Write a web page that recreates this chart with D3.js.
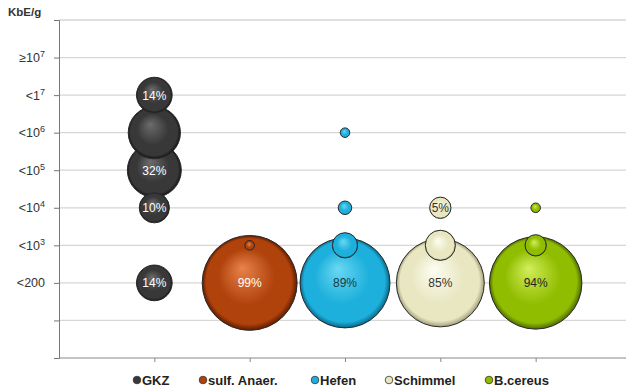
<!DOCTYPE html>
<html><head><meta charset="utf-8">
<script src="https://cdn.jsdelivr.net/npm/d3@7"></script>
<style>body{margin:0;background:#fff;font-family:Arial,"Liberation Sans",sans-serif;}</style>
</head><body><svg id="c" width="626" height="388"></svg>
<script>
const seriesNames = ["GKZ","sulf. Anaer.","Hefen","Schimmel","B.cereus"];
const seriesX = [1,2,3,4,5];
// each point: [level, percent]
const gkz = [[7,14],[6,30],[5,32],[4,10],[2,14]];
const sulf = [[3,1],[2,99]];
const hefen = [[6,1],[4,2],[3,7],[2,89]];
const schimmel = [[4,5],[3,10],[2,85]];
const bcereus = [[4,1],[3,5],[2,94]];
const seriesData = [gkz,sulf,hefen,schimmel,bcereus];
const labelShown = [[true,false,true,true,true],[false,true],[false,false,false,true],[true,false,true],[false,false,true]];
const yTickValues = [0,1,2,3,4,5,6,7,8,9];
const yTickLabels = {2:["<200",""],3:["<10","3"],4:["<10","4"],5:["<10","5"],6:["<10","6"],7:["<1","7"],8:["≥10","7"]};
const colors = [
  {base:"#383838",light:"#6c6c6c",edge:"#141414",text:"#ffffff"},
  {base:"#b0420c",light:"#e8834a",edge:"#5e1c00",text:"#ffffff"},
  {base:"#1eb0dc",light:"#6ad8f2",edge:"#086a8a",text:"#1a3a48"},
  {base:"#e8e7c2",light:"#fdfdf2",edge:"#a09e78",text:"#333333"},
  {base:"#90bd00",light:"#d2ee5a",edge:"#4e6a00",text:"#222222"}
];

const svg = d3.select("#c");
const x = d3.scaleLinear().domain([0,6]).range([59,631]);
const y = d3.scaleLinear().domain([0,9]).range([358,20]);
const r = d3.scaleSqrt().domain([0,100]).range([0,47.7]);

const defs = svg.append("defs");
colors.forEach((c,i)=>{
  const g = defs.append("radialGradient").attr("id","g"+i)
    .attr("cx","50%").attr("cy","50%").attr("r","50%").attr("fx","42%").attr("fy","34%");
  g.append("stop").attr("offset","0%").attr("stop-color",c.light);
  g.append("stop").attr("offset","60%").attr("stop-color",c.base);
  g.append("stop").attr("offset","90%").attr("stop-color",c.base);
  g.append("stop").attr("offset","100%").attr("stop-color",c.edge);
});

// gridlines
svg.append("g").selectAll("line").data(yTickValues.filter(v=>v>0)).join("line")
  .attr("x1",59).attr("x2",626).attr("y1",d=>y(d)).attr("y2",d=>y(d))
  .attr("stroke","#d6d6d6").attr("stroke-width",1.3);

// axes
const yAxis = d3.axisLeft(y).tickValues(yTickValues).tickSize(5).tickFormat("");
const gy = svg.append("g").attr("transform","translate(59,0)").call(yAxis);
gy.select(".domain").attr("stroke","#777");
gy.selectAll(".tick line").attr("stroke","#777");
const xAxis = d3.axisBottom(x).tickValues(seriesX).tickSize(4).tickFormat("");
const gx = svg.append("g").attr("transform","translate(0,358)").call(xAxis);
gx.select(".domain").attr("stroke","#888").attr("d","M59,0H626");
gx.selectAll(".tick line").attr("stroke","#888");

// y tick labels
Object.keys(yTickLabels).forEach(k=>{
  const [base,sup] = yTickLabels[k];
  const t = svg.append("text").attr("x",45).attr("y",y(+k)+4.5).attr("text-anchor","end")
    .attr("font-size",12.5).attr("fill","#333");
  t.append("tspan").text(base);
  if(sup) t.append("tspan").attr("dy",-5).attr("font-size",9).text(sup);
});
svg.append("text").attr("x",8).attr("y",16).attr("font-size",11.5).attr("font-weight","bold")
  .attr("fill","#333").text("KbE/g");

// bubbles
seriesData.forEach((data,si)=>{
  const pts = data.map((d,i)=>({lv:d[0],v:d[1],show:labelShown[si][i]}));
  const sorted = pts.slice().sort((a,b)=>b.v-a.v);
  const g = svg.append("g");
  g.selectAll("circle").data(sorted).join("circle")
    .attr("cx",x(seriesX[si])).attr("cy",d=>y(d.lv)).attr("r",d=>r(d.v))
    .attr("fill","url(#g"+si+")").attr("stroke","#2a2a2a").attr("stroke-width",1);
});
seriesData.forEach((data,si)=>{
  const pts = data.map((d,i)=>({lv:d[0],v:d[1],show:labelShown[si][i]}));
  svg.append("g").selectAll("text").data(pts.filter(p=>p.show)).join("text")
    .attr("x",x(seriesX[si])).attr("y",d=>y(d.lv)+4.5).attr("text-anchor","middle")
    .attr("font-size",12).attr("fill",colors[si].text).text(d=>d.v+"%");
});

// legend
const legX = [137,203,315,389,489];
const lg = svg.append("g");
seriesNames.forEach((n,i)=>{
  lg.append("circle").attr("cx",legX[i]).attr("cy",380).attr("r",3.8)
    .attr("fill",colors[i].base).attr("stroke","#333").attr("stroke-width",0.8);
  lg.append("text").attr("x",legX[i]+5).attr("y",385).attr("font-size",13)
    .attr("font-weight","bold").attr("fill","#222").text(n);
});
</script></body></html>
